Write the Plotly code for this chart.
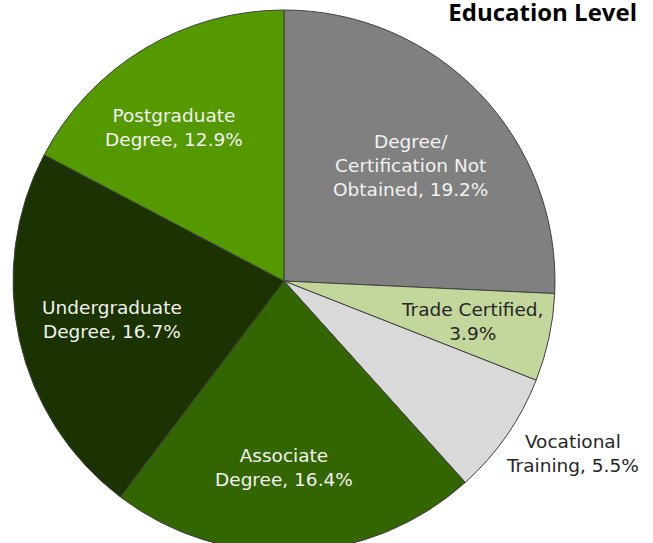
import math
import plotly.graph_objects as go

# ---- data ----
categories = [
    "Degree/<br>Certification Not<br>Obtained",
    "Trade Certified,<br>",
    "Vocational<br>Training",
    "Associate<br>Degree",
    "Undergraduate<br>Degree",
    "Postgraduate<br>Degree",
]
plain_labels = [
    "Degree/Certification Not Obtained",
    "Trade Certified",
    "Vocational Training",
    "Associate Degree",
    "Undergraduate Degree",
    "Postgraduate Degree",
]
values = [19.2, 3.9, 5.5, 16.4, 16.7, 12.9]
colors = ["#808080", "#c3d69b", "#d9d9d9", "#336600", "#1b3300", "#559900"]
text_colors = ["#f2f2f2", "#262626", "#262626", "#f2f2f2", "#f2f2f2", "#f2f2f2"]
# label placement: fraction of radius and angle offset (deg) from slice middle
label_radius = [0.63, 0.71, 1.238, 0.69, 0.65, 0.698]
label_angle_offset = [1.3, 0.0, -3.9, 2.4, 0.0, -4.4]
label_sep = [", ", "", ", ", ", ", ", ", ", "]

W, H = 653, 560
ML, MR, MT, MB = 13, 98, 10, 8
PW, PH = W - ML - MR, H - MT - MB
R = min(PW, PH) / 2.0
CX, CY = ML + PW / 2.0, MT + PH / 2.0

fig = go.Figure(go.Pie(
    labels=plain_labels,
    values=values,
    sort=False,
    direction="clockwise",
    rotation=0,
    textinfo="none",
    hoverinfo="label+value",
    marker=dict(colors=colors, line=dict(color="#404040", width=1)),
    domain=dict(x=[0, 1], y=[0, 1]),
    showlegend=False,
))

total = sum(values)
cum = 0.0
annotations = []
for lab, v, tc, rf, off, sep in zip(categories, values, text_colors, label_radius,
                                     label_angle_offset, label_sep):
    mid = math.radians((cum + v / 2.0) / total * 360.0 + off)
    cum += v
    px = CX + rf * R * math.sin(mid)
    py = CY - rf * R * math.cos(mid)
    annotations.append(dict(
        x=(px - ML) / PW, y=1 - (py - MT) / PH, xref="paper", yref="paper",
        text=f"{lab}{sep}{v}%", showarrow=False, xanchor="center", yanchor="middle",
        align="center", font=dict(family="DejaVu Sans", size=18.5, color=tc),
    ))

fig.update_layout(
    width=W, height=H,
    margin=dict(l=ML, r=MR, t=MT, b=MB),
    paper_bgcolor="white", plot_bgcolor="white",
    title=dict(text="<b>Education Level</b>", x=637 / W, xanchor="right",
               y=1 - 12.5 / H, yanchor="middle", xref="container", yref="container",
               font=dict(family="Open Sans", size=24, color="#000000")),
    annotations=annotations,
)

fig.write_html(
    "out.html", config={"displayModeBar": False},
    post_script="document.documentElement.style.overflow='hidden';"
                "document.body.style.overflow='hidden';document.body.style.margin='0';",
)
